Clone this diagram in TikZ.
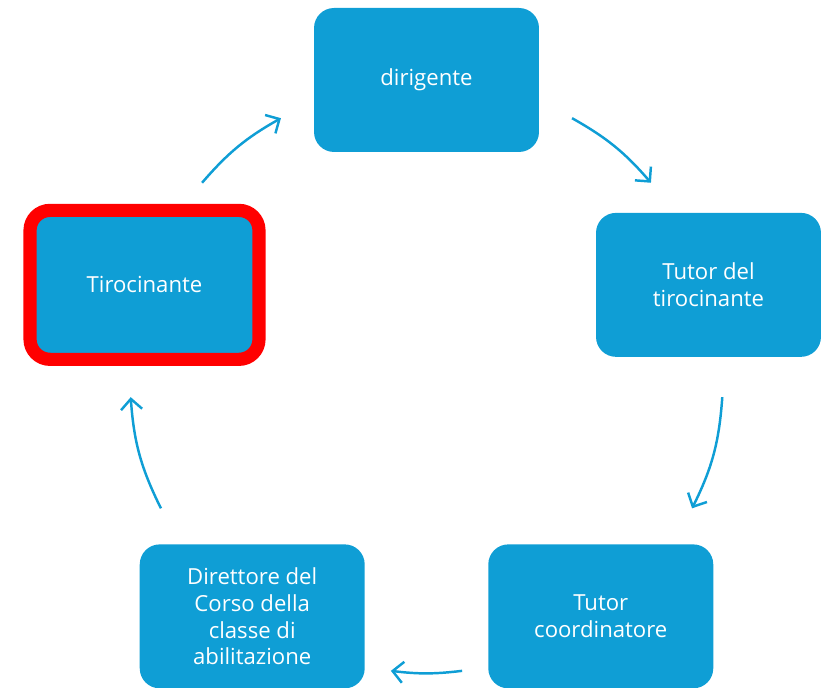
\documentclass[tikz,border=0pt]{standalone}
\usepackage{fontspec}
\setmainfont{Open Sans}
\usepackage{tikz}
\usetikzlibrary{arrows.meta}
\definecolor{boxblue}{HTML}{0F9ED5}
\tikzset{
  role/.style={fill=boxblue, rounded corners=0.4cm, minimum width=4.5cm, minimum height=2.88cm,
    text=white, align=center, font=\fontsize{12.6}{15.3}\selectfont},
  cyc/.style={draw=boxblue, line width=1.4pt, -{Straight Barb[length=6pt,width=12pt]}}
}

\begin{document}
\begin{tikzpicture}[x=0.02cm, y=0.02cm]
        \useasboundingbox (0,0) rectangle (828,688);
        \coordinate (c) at (426.5,311.5);
        \node[role] (dir) at ([shift={(90:296.5)}]c) {dirigente};
        \node[role] (tut) at ([shift={(18:296.5)}]c) {Tutor del\\tirocinante};
        \node[role] (coord) at ([shift={(-54:296.5)}]c) {Tutor\\coordinatore};
        \node[role] (corso) at ([shift={(-126:296.5)}]c) {Direttore del\\Corso della\\classe di\\abilitazione};
        \node[role, draw=red, line width=7.5pt, minimum width=4.58cm, minimum height=2.98cm] (tiro)
          at ([shift={(162:296.5)}]c) {Tirocinante};
        % arrows round the cycle
        \foreach \a/\b [count=\i] in {60.6/40.8, -4.0/-26.4, -83.1/-96.9, -153.6/-176.0, 139.2/119.4} {
          \pgfmathsetmacro\bnd{((\a)-(\b))/2}
          \coordinate (s\i) at ([shift={(\a:296.5)}]c);
          \coordinate (e\i) at ([shift={(\b:296.5)}]c);
          \draw[cyc] (s\i) to[bend left=\bnd] (e\i);
        }
      \end{tikzpicture}
\end{document}
